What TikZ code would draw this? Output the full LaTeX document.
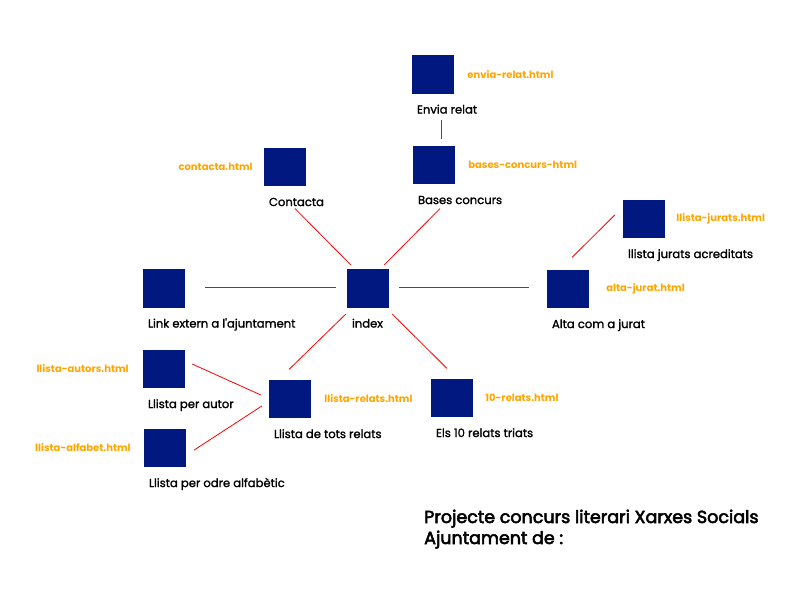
\documentclass[tikz,border=0pt]{standalone}
\usepackage{fontspec}
\setmainfont{Poppins}
\newfontfamily\medfont[FakeBold=1.5]{Poppins}
\newfontfamily\titlefont[FakeBold=3]{Poppins}
\usepackage{tikz}
\usetikzlibrary{positioning}
\definecolor{pagenavy}{RGB}{0,24,128}
\definecolor{fileorange}{RGB}{255,165,0}
\tikzset{
x=1pt, y=-1pt, % pixel grid of the sketch
page/.style={fill=pagenavy, draw=none, minimum width=42pt, minimum height=38.7pt, inner sep=0pt}, % one square per page
lbl/.style={inner sep=0pt, font=\medfont\fontsize{11.6}{13}\selectfont}, % page title under the square
htmlfile/.style={inner sep=0pt, text=fileorange, font=\bfseries\fontsize{10}{12}\selectfont}, % file name
conn/.style={draw=red, line width=0.8pt}, % link between pages
}

\begin{document}
\begin{tikzpicture}
    \useasboundingbox (0,0) rectangle (800,600);

    % pages
    \node[page] (envia) at (433,74.5) {};
    \node[page] (bases) at (434,165) {};
    \node[page] (contacta) at (285,167) {};
    \node[page] (link) at (164,288.5) {};
    \node[page] (index) at (368,288.5) {};
    \node[page] (alta) at (568,289) {};
    \node[page] (jurats) at (644,219) {};
    \node[page] (autor) at (164,369) {};
    \node[page] (tots) at (290,399) {};
    \node[page] (alfabet) at (165,448) {};
    \node[page] (deu) at (452,398) {};

    % page titles
    \node[lbl, below right=19.5pt and 5pt of envia.south west, anchor=base west] (envia-t) {Envia relat};
    \node[lbl, below right=19.5pt and 5pt of bases.south west, anchor=base west] (bases-t) {Bases concurs};
    \node[lbl, below right=19.5pt and 5pt of contacta.south west, anchor=base west] (contacta-t) {Contacta};
    \node[lbl, below right=19.5pt and 5pt of link.south west, anchor=base west] (link-t) {Link extern a l'ajuntament};
    \node[lbl, below right=19.5pt and 5pt of index.south west, anchor=base west] (index-t) {index};
    \node[lbl, below right=19.5pt and 5pt of alta.south west, anchor=base west] (alta-t) {Alta com a jurat};
    \node[lbl, below right=19.5pt and 5pt of jurats.south west, anchor=base west] (jurats-t) {llista jurats acreditats};
    \node[lbl, below right=19.5pt and 5pt of autor.south west, anchor=base west] (autor-t) {Llista per autor};
    \node[lbl, below right=19.5pt and 5pt of tots.south west, anchor=base west] (tots-t) {Llista de tots relats};
    \node[lbl, below right=19.5pt and 5pt of alfabet.south west, anchor=base west] (alfabet-t) {Llista per odre alfabètic};
    \node[lbl, below right=19.5pt and 5pt of deu.south west, anchor=base west] (deu-t) {Els 10 relats triats};

    % file names
    \node[htmlfile, right=13pt of envia] (envia-f) {envia-relat.html};
    \node[htmlfile, right=13pt of bases] (bases-f) {bases-concurs-html};
    \node[htmlfile, left=11pt of contacta] (contacta-f) {contacta.html};
    \node[htmlfile, right=17pt of alta] (alta-f) {alta-jurat.html};
    \node[htmlfile, right=11pt of jurats] (jurats-f) {llista-jurats.html};
    \node[htmlfile, left=14pt of autor] (autor-f) {llista-autors.html};
    \node[htmlfile, right=13pt of tots] (tots-f) {llista-relats.html};
    \node[htmlfile, left=13pt of alfabet] (alfabet-f) {llista-alfabet.html};
    \node[htmlfile, right=12pt of deu] (deu-f) {10-relats.html};

    % links
    \draw[conn] ([shift={(8,26)}]envia.south) -- ([shift={(7,-6)}]bases.north);
    \draw[conn] ([shift={(10,22)}]contacta.south) -- ([shift={(4,-4)}]index.north west);
    \draw[conn] ([shift={(6,24)}]bases.south) -- ([shift={(-5,-4)}]index.north east);
    \draw[conn] ([shift={(20,-1.5)}]link.east) -- ([shift={(-11,-1.5)}]index.west);
    \draw[conn] ([shift={(10,-1.5)}]index.east) -- ([shift={(-18,-2)}]alta.west);
    \draw[conn] ([shift={(4,-12)}]alta.north) -- ([shift={(-8,-4)}]jurats.west);
    \draw[conn] ([shift={(-1,6)}]index.south west) -- ([shift={(-1,-10)}]tots.north);
    \draw[conn] ([shift={(3,6)}]index.south east) -- ([shift={(-5,-10)}]deu.north);
    \draw[conn] ([shift={(7,-5)}]autor.east) -- ([shift={(-8,-4)}]tots.west);
    \draw[conn] ([shift={(8,2)}]alfabet.east) -- ([shift={(-7,7)}]tots.west);

    % project title
    \node[inner sep=0pt, anchor=base west, align=left, font=\titlefont\fontsize{17.5}{21}\selectfont] (title) at (424,544)
        {Projecte concurs literari Xarxes Socials\\Ajuntament de :};
\end{tikzpicture}
\end{document}
